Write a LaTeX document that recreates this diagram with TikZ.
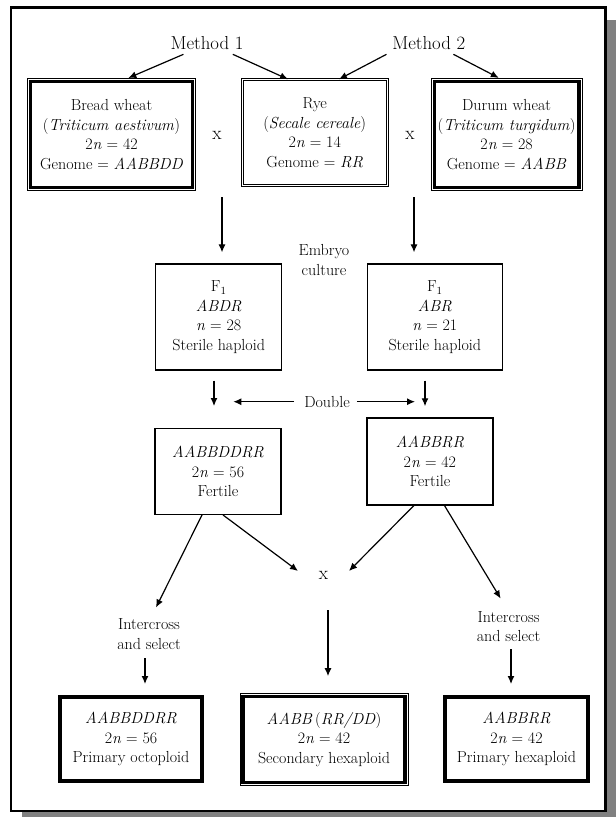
\documentclass[tikz,border=0pt]{standalone}
\usepackage{xcolor}
\usepackage{tikz}
\usetikzlibrary{arrows.meta, positioning}

\begin{document}
\begin{tikzpicture}[
    x=1pt, y=-1pt,
    every node/.style={font=\fontsize{16}{19.5}\selectfont},
    box/.style={
        rectangle,
        draw=black,
        line width=1.3pt,
        align=center,
        inner sep=0pt,
        fill=white
    },
    thickbox/.style={box, line width=3.6pt},
    doublebox/.style={box, line width=0.9pt, double, double distance=1.3pt},
    heavybox/.style={
        box,
        line width=1pt,
        path picture={
            \draw[line width=3.3pt]
                ([shift={(3.1pt,-3.1pt)}]path picture bounding box.north west) rectangle
                ([shift={(-3.1pt,3.1pt)}]path picture bounding box.south east);
        }
    },
    note/.style={align=center, inner sep=1pt},
    cross/.style={font=\fontsize{19}{20}\selectfont, inner sep=1pt},
    method/.style={font=\fontsize{18.8}{22}\selectfont, inner sep=2pt},
    arrow/.style={-{Latex[length=8pt, width=7pt]}, line width=1.2pt}
]

% frame with shadow
\useasboundingbox (0,0) rectangle (616,817);
\fill[gray] (22,20) rectangle (616,817);
\draw[line width=2.4pt, fill=white] (11,7.5) rectangle (605.3,810.7);

% parents
\node[method] (m1) at (207,43) {Method 1};
\node[method] (m2) at (428.8,43) {Method 2};

\node[heavybox, minimum width=168pt, minimum height=112pt] (bread) at (111.5,134.5)
    {Bread wheat\\(\textit{Triticum aestivum})\\2\textit{n} = 42\\Genome = \textit{AABBDD}};
\node[doublebox, minimum width=145pt, minimum height=106pt] (rye) at (314.7,132.7)
    {Rye\\(\textit{Secale cereale})\\2\textit{n} = 14\\Genome = \textit{RR}};
\node[heavybox, minimum width=151pt, minimum height=112pt] (durum) at (506.6,134.4)
    {Durum wheat\\(\textit{Triticum turgidum})\\2\textit{n} = 28\\Genome = \textit{AABB}};

\node[cross] (cross1) at (217,135) {x};
\node[cross] (cross2) at (410,135) {x};

% F1 hybrids
\node[note] (embryo) at (324,260) {Embryo\\culture};
\node[box, minimum width=126pt, minimum height=106pt] (f1a) at (218.7,317)
    {F$_1$\\\textit{ABDR}\\\textit{n} = 28\\Sterile haploid};
\node[box, minimum width=135pt, minimum height=106pt] (f1b) at (434.8,317)
    {F$_1$\\\textit{ABR}\\\textit{n} = 21\\Sterile haploid};

\node[note] (double) at (327,401.7) {Double};

% amphiploids
\node[box, minimum width=126pt, minimum height=85.6pt] (oct) at (218,471.5)
    {\textit{AABBDDRR}\\2\textit{n} = 56\\Fertile};
\node[box, minimum width=126pt, minimum height=87pt] (hexa) at (429.9,461.4)
    {\textit{AABBRR}\\2\textit{n} = 42\\Fertile};

\node[cross] (cross3) at (323.4,575) {x};
\node[note] (select1) at (149,634) {Intercross\\and select};
\node[note] (select2) at (508.6,626.5) {Intercross\\and select};

% results
\node[thickbox, minimum width=142pt, minimum height=84.4pt] (primoct) at (131,739)
    {\textit{AABBDDRR}\\2\textit{n} = 56\\Primary octoploid};
\node[heavybox, minimum width=168pt, minimum height=92pt] (sechex) at (324,739.6)
    {\textit{AABB}\,(\textit{RR/DD})\\2\textit{n} = 42\\Secondary hexaploid};
\node[thickbox, minimum width=143.4pt, minimum height=84.4pt] (primhex) at (516.5,739)
    {\textit{AABBRR}\\2\textit{n} = 42\\Primary hexaploid};

\coordinate (down1) at (222,197);
\coordinate (down2) at (414,197);
\coordinate (dblleft) at (233.3,401.7);
\coordinate (dblright) at (415,401.7);

\draw[arrow] ([xshift=-23.5pt, yshift=-2.5pt]m1.south) -- ([xshift=16.8pt]bread.north);
\draw[arrow] ([xshift=25.8pt, yshift=-2.5pt]m1.south) -- ([xshift=-26.7pt]rye.north);
\draw[arrow] ([xshift=-42.3pt, yshift=-2.5pt]m2.south) -- ([xshift=24.3pt]rye.north);
\draw[arrow] ([xshift=24.6pt, yshift=-2.5pt]m2.south) -- ([xshift=-7.8pt]durum.north);

\draw[arrow, shorten >=11pt] (down1) -- (down1 |- f1a.north);
\draw[arrow, shorten >=11pt] (down2) -- (down2 |- f1b.north);

\draw[arrow, shorten >=22pt] ([xshift=-4.7pt, yshift=-10pt]f1a.south) -- ([xshift=-4.7pt]f1a.south |- oct.north);
\draw[arrow, shorten >=11pt] ([xshift=-9.8pt, yshift=-10pt]f1b.south) -- ([xshift=-9.8pt]f1b.south |- hexa.north);
\draw[arrow, shorten <=9pt] (double.west) -- (dblleft);
\draw[arrow, shorten <=6pt] (double.east) -- (dblright);

\draw[arrow] ([xshift=-16pt]oct.south) -- ([xshift=7pt, yshift=10pt]select1.north);
\draw[arrow] ([xshift=5pt]oct.south) -- ([xshift=-25.4pt, yshift=4pt]cross3.center);
\draw[arrow] ([xshift=-16pt]hexa.south) -- ([xshift=25.6pt, yshift=4pt]cross3.center);
\draw[arrow] ([xshift=14.6pt]hexa.south) -- ([xshift=-8pt, yshift=11.5pt]select2.north);

\draw[arrow, shorten <=8pt, shorten >=11pt] ([xshift=-4pt]select1.south) -- ([xshift=-4pt]select1.south |- primoct.north);
\draw[arrow, shorten <=35pt, shorten >=17pt] ([xshift=4.6pt]cross3.center) -- ([xshift=4.6pt]cross3.center |- sechex.north);
\draw[arrow, shorten <=6.5pt, shorten >=11pt] ([xshift=2.4pt]select2.south) -- ([xshift=2.4pt]select2.south |- primhex.north);

\end{tikzpicture}
\end{document}
